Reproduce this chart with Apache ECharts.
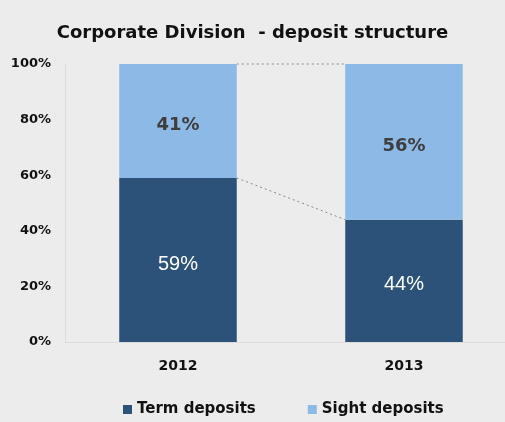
<!DOCTYPE html>
<html>
<head>
<meta charset="utf-8">
<script src="https://cdn.jsdelivr.net/npm/echarts@6/dist/echarts.min.js"></script>
<style>
html,body{margin:0;padding:0;background:#ececec;}
#chart{width:505px;height:422px;}
</style>
</head>
<body>
<div id="chart"></div>
<script>
const categories = ['2012', '2013'];
const termDeposits = [59, 44];
const sightDeposits = [41, 56];
const yTicks = ['0%', '20%', '40%', '60%', '80%', '100%'];

const chart = echarts.init(document.getElementById('chart'), null, {renderer: 'canvas'});
const BAR_FRAC = 0.52;
const FONT = 'DejaVu Sans';

// connector levels: top of term segment and top of full stack
const connectorLevels = [
  [termDeposits[0], termDeposits[1]],
  [termDeposits[0] + sightDeposits[0], termDeposits[1] + sightDeposits[1]]
];

chart.setOption({
  backgroundColor: '#ececec',
  animation: false,
  title: {
    text: 'Corporate Division  - deposit structure',
    left: 'center',
    top: 19,
    textStyle: {fontFamily: FONT, fontWeight: 'bold', fontSize: 18, color: '#111'}
  },
  legend: {
    top: 397,
    left: 118,
    itemGap: 52,
    itemWidth: 9,
    itemHeight: 9,
    icon: 'rect',
    data: ['Term deposits', 'Sight deposits'],
    textStyle: {fontFamily: FONT, fontWeight: 'bold', fontSize: 15, color: '#111'}
  },
  grid: {left: 65, width: 452, top: 64, bottom: 80, outerBoundsMode: 'none', containLabel: false},
  xAxis: {
    type: 'category',
    data: categories,
    axisLine: {show: true, lineStyle: {color: '#dcdcdc'}},
    axisTick: {show: false},
    axisLabel: {margin: 17, fontFamily: FONT, fontWeight: 'bold', fontSize: 14, color: '#111'}
  },
  yAxis: {
    type: 'value',
    min: 0, max: 100, interval: 20,
    splitLine: {show: false},
    axisLine: {show: true, lineStyle: {color: '#dcdcdc'}},
    axisTick: {show: false},
    axisLabel: {
      margin: 14,
      fontFamily: FONT, fontWeight: 'bold', fontSize: 13, color: '#111',
      formatter: v => yTicks[Math.round(v / 20)]
    }
  },
  series: [
    {
      name: 'Term deposits',
      type: 'bar',
      stack: 'dep',
      barWidth: '52%',
      data: termDeposits,
      itemStyle: {color: '#2c5279'},
      label: {show: true, position: 'inside', formatter: '{c}%', color: '#fff',
              fontFamily: 'Liberation Sans', fontSize: 20, offset: [0, 4]}
    },
    {
      name: 'Sight deposits',
      type: 'bar',
      stack: 'dep',
      barWidth: '52%',
      data: sightDeposits,
      itemStyle: {color: '#8db9e6'},
      label: {show: true, position: 'inside', formatter: '{c}%', color: '#3e3e3e',
              fontFamily: FONT, fontWeight: 'bold', fontSize: 18, offset: [0, 4]}
    },
    {
      type: 'custom',
      silent: true,
      data: connectorLevels,
      renderItem: function (params, api) {
        const a = api.coord([0, api.value(0)]);
        const b = api.coord([1, api.value(1)]);
        const bw = api.size([1, 0])[0] * BAR_FRAC;
        return {
          type: 'line',
          shape: {x1: a[0] + bw / 2, y1: a[1], x2: b[0] - bw / 2, y2: b[1]},
          style: {stroke: '#888', lineWidth: 1, lineDash: [2, 3]}
        };
      },
      encode: {x: -1, y: [0, 1]},
      z: 1
    }
  ]
});
</script>
</body>
</html>
